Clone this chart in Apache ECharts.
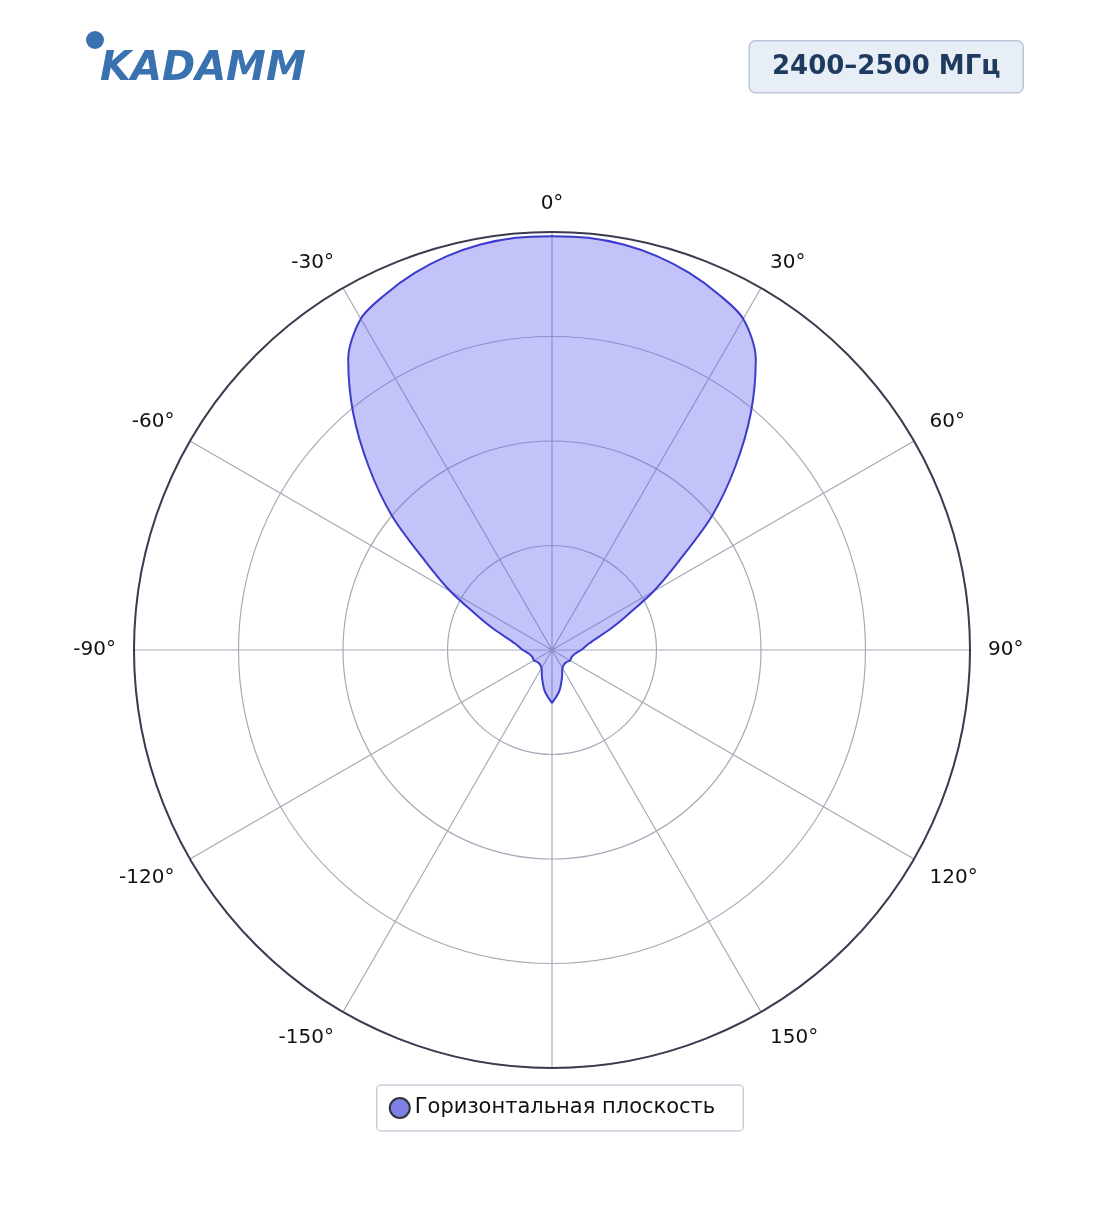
<!DOCTYPE html>
<html><head><meta charset="utf-8">
<script src="https://cdn.jsdelivr.net/npm/echarts@6/dist/echarts.min.js"></script>
<style>html,body{margin:0;padding:0;background:#fff}#c{width:1104px;height:1211px}</style>
</head><body><div id="c"></div>
<script>
const angles = [-180,-170,-160,-150,-140,-130,-120,-110,-100,-90,-80,-70,-65,-60,-55,-50,-45,-40,-35,-30,-25,-20,-15,-10,-5,0,5,10,15,20,25,30,35,40,45,50,55,60,65,70,80,90,100,110,120,130,140,150,160,170,180];
const gains = [0.127,0.10,0.07,0.05,0.045,0.045,0.05,0.05,0.055,0.07,0.09,0.15,0.2,0.28,0.37,0.5,0.62,0.74,0.85,0.915,0.94,0.96,0.975,0.985,0.99,0.99,0.99,0.985,0.975,0.96,0.94,0.915,0.85,0.74,0.62,0.5,0.37,0.28,0.2,0.15,0.09,0.07,0.055,0.05,0.05,0.045,0.045,0.05,0.07,0.10,0.127];
const seriesName = 'Горизонтальная плоскость';
const bandLabel = '2400–2500 МГц';
const chart = echarts.init(document.getElementById('c'));
chart.setOption({
  animation:false,
  textStyle:{fontFamily:'DejaVu Sans'},
  polar:{center:['50%',650],radius:418},
  angleAxis:{type:'value',min:-180,max:180,interval:30,startAngle:-90,clockwise:true,
    axisLine:{lineStyle:{color:'#3a3d4f',width:2}},axisTick:{show:false},
    axisLabel:{color:'#111',fontSize:20,margin:18,formatter:v=>(v===180||v===-180)?'':v+'°'},
    splitLine:{lineStyle:{color:'#a8a8b8',width:1.2}}},
  radiusAxis:{min:0,max:1,interval:0.25,axisLabel:{show:false},axisLine:{show:false},axisTick:{show:false},
    splitLine:{lineStyle:{color:'#a8a8b8',width:1.2}}},
  legend:{bottom:80,left:'center',itemWidth:20,itemHeight:20,icon:'circle',borderColor:'#c8d0dc',borderWidth:1.5,borderRadius:4,padding:[12,28,12,12],
    textStyle:{fontSize:21,color:'#111'},data:[seriesName]},
  series:[{name:seriesName,type:'line',coordinateSystem:'polar',smooth:0.3,symbol:'none',
    data:angles.map((a,i)=>[gains[i],a]),
    itemStyle:{color:'#8080e8',borderColor:'#333',borderWidth:1},
    lineStyle:{color:'#3b3bcc',width:2},areaStyle:{color:'rgba(100,100,240,0.55)'}}],
  graphic:[
    {type:'text',left:100,top:50,style:{text:'KADAMM',font:'italic bold 40px DejaVu Sans',fill:'#3a72b0'}},
    {type:'circle',shape:{cx:95,cy:40,r:9},style:{fill:'#3a72b0'}},
    {type:'group',right:80,top:40,children:[
      {type:'rect',shape:{x:0,y:0,width:274,height:52,r:6},style:{fill:'#e8eef5',stroke:'#b8c6d8',lineWidth:1.5}},
      {type:'text',x:137,y:26,style:{text:bandLabel,font:'bold 26px DejaVu Sans',fill:'#1f3a5f',align:'center',verticalAlign:'middle'}}]}
  ]
});
</script></body></html>
